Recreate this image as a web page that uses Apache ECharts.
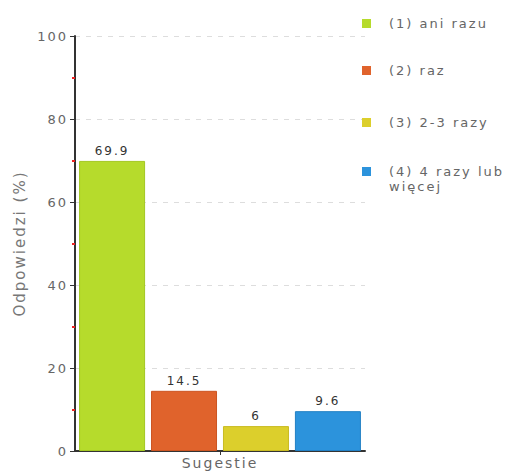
<!DOCTYPE html>
<html>
<head>
<meta charset="utf-8">
<script src="https://cdn.jsdelivr.net/npm/echarts@6/dist/echarts.min.js"></script>
<style>
html,body{margin:0;padding:0;background:#fff;}
#c{width:515px;height:473px;}
#c text{letter-spacing:2px;}
</style>
</head>
<body>
<div id="c"></div>
<script>
var categories = ['Sugestie'];
var seriesNames = ['(1) ani razu', '(2) raz', '(3) 2-3 razy', '(4) 4 razy lub więcej'];
var values1 = [69.9];
var values2 = [14.5];
var values3 = [6];
var values4 = [9.6];
var yTicks = [0, 20, 40, 60, 80, 100];

var colors = ['#b6db2c', '#e0632c', '#dccf2c', '#2c93dc'];
var borders = ['#a3c722', '#cc5522', '#c8bb22', '#2280c4'];
var allValues = [values1, values2, values3, values4];
var font = 'DejaVu Sans';

var chart = echarts.init(document.getElementById('c'), null, {renderer: 'svg'});

var series = seriesNames.map(function (n, i) {
  return {
    name: n,
    type: 'bar',
    data: allValues[i],
    barWidth: 66,
    barGap: '9%',
    itemStyle: {color: colors[i], borderColor: borders[i], borderWidth: 1},
    label: {
      show: true, position: 'top', distance: 4,
      color: '#333', fontFamily: font, fontSize: 12,
      formatter: function (p) { return String(p.value); }
    }
  };
});

var legendText = {fontFamily: font, fontSize: 13, color: '#666', lineHeight: 15, padding: [0, 0, 0, 13]};
var legendTops = [16, 63, 115];
var legends = legendTops.map(function (t, i) {
  return {
    data: [seriesNames[i]], left: 362, top: t, orient: 'vertical',
    itemWidth: 9, itemHeight: 9, itemGap: 0, padding: 0, icon: 'rect',
    itemStyle: {borderWidth: 0},
    textStyle: legendText,
    selectedMode: false
  };
});
legends.push({
  data: [seriesNames[3]], left: 362, top: 164, orient: 'vertical',
  itemWidth: 9, itemHeight: 30, padding: 0,
  icon: 'path://M0,0H0.01V0.01H0Z M0,3H9V12H0Z M0,29.99H0.01V30H0Z',
  itemStyle: {borderWidth: 0},
  textStyle: legendText,
  selectedMode: false,
  formatter: function () { return '(4) 4 razy lub\nwięcej'; }
});

chart.setOption({
  animation: false,
  backgroundColor: '#fff',
  legend: legends,
  grid: {left: 75, right: 150, top: 36, bottom: 22, containLabel: false},
  xAxis: {
    type: 'category', data: categories,
    axisLine: {lineStyle: {color: '#333', width: 2}},
    axisTick: {show: true, alignWithLabel: true, length: 4, lineStyle: {color: '#333'}},
    axisLabel: {fontFamily: font, fontSize: 14, color: '#666', margin: 5}
  },
  yAxis: {
    type: 'value', min: yTicks[0], max: yTicks[yTicks.length - 1], interval: 20,
    name: 'Odpowiedzi (%)', nameLocation: 'middle', nameGap: 48,
    nameTextStyle: {fontFamily: font, fontSize: 15, color: '#777'},
    axisLine: {show: true, lineStyle: {color: '#333', width: 2}},
    axisTick: {show: true, length: 5, lineStyle: {color: '#333'}},
    minorTick: {show: true, splitNumber: 2, length: 3, lineStyle: {color: '#e22', width: 2}},
    axisLabel: {fontFamily: font, fontSize: 13, color: '#666', margin: 7},
    splitLine: {show: true, lineStyle: {color: '#ddd', type: [5, 6]}}
  },
  series: series
});
</script>
</body>
</html>
